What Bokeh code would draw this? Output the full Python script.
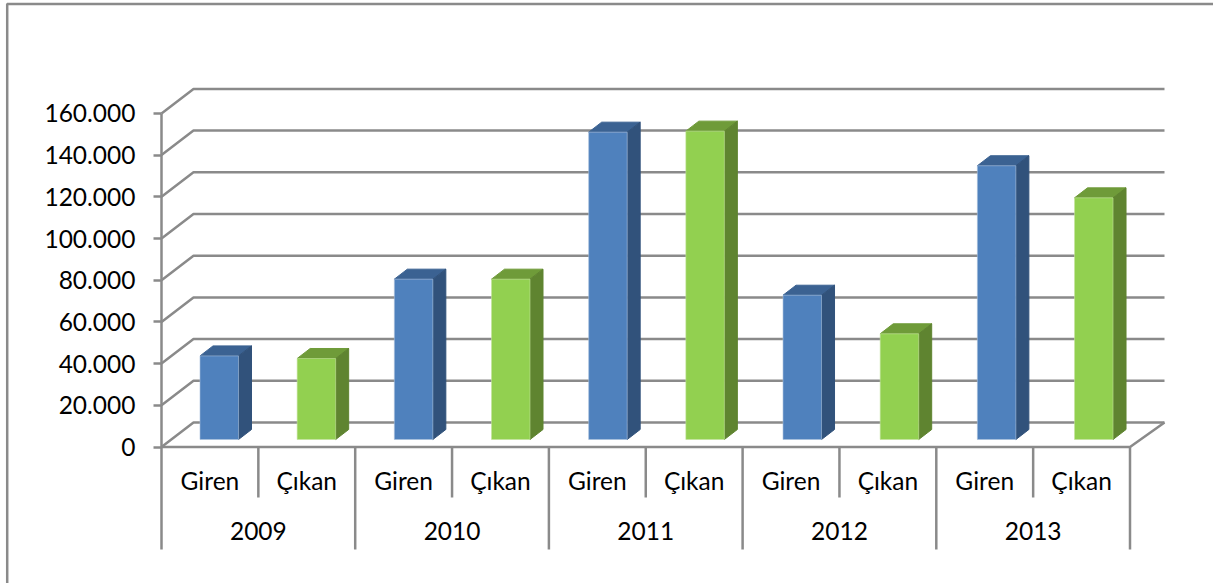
from bokeh.plotting import figure
from bokeh.embed import file_html
from bokeh.resources import INLINE
from bokeh.core.properties import value
from bokeh.models import Range1d, LinearAxis, FixedTicker, ColumnDataSource

# ---- data ----
years = ["2009", "2010", "2011", "2012", "2013"]
kinds = ["Giren", "Çıkan"]
giren = [40100, 76900, 147400, 69200, 131300]
cikan = [38850, 76900, 147900, 50700, 115900]
tick_values = [0, 20000, 40000, 60000, 80000, 100000, 120000, 140000, 160000]
tick_labels = ["0", "20.000", "40.000", "60.000", "80.000", "100.000", "120.000", "140.000", "160.000"]

# ---- geometry ----
W, H = 1213, 583
AX_X, AX_Y = 161.0, 446.5          # pixel of slot 0 / value 0 (front plane)
SLOT = 96.85                       # px per category slot
PX = 41.7 / 20000                  # px per value unit
DX, DY = 32.0, 24.5                # wall depth in px
BAR_OFF, BAR_W = 38.5, 38.5        # bar front face within its slot
BAR_DRIFT = 0.32                   # bars fan out slightly, px per slot
BAR_LIFT = 7.5                     # bar base above front floor line
BAR_DX, BAR_DY = 13.0, 10.0        # bar depth
FONT = "Lato"
FS = "24.5px"
GREY = "#8A8A8A"
LW = 2.5

dx = lambda px: px / SLOT          # px length -> x data
dy = lambda px: px / PX            # px length -> y data

p = figure(width=W, height=H, output_backend="svg", toolbar_location=None,
           x_axis_type=None, y_axis_type=None, min_border=0, outline_line_color=None,
           x_range=Range1d(-AX_X / SLOT, (W - AX_X) / SLOT),
           y_range=Range1d(-(H - AX_Y) / PX, AX_Y / PX))
p.grid.visible = False
p.styles = {"position": "absolute", "left": "0px", "top": "0px"}

n = len(years) * len(kinds)

# chart-area border (top and left only)
left_x = dx(6.7 - AX_X)
top_y = dy(AX_Y - 3.5)
p.line([left_x, left_x, dx(W - AX_X)], [dy(AX_Y - H), top_y, top_y], line_color=GREY, line_width=LW)

# walls: gridlines running from the axis, back, and along the back wall
for v in tick_values:
    p.line([0, dx(DX), n + dx(DX + 2.5)], [v, v + dy(DY), v + dy(DY)], line_color=GREY, line_width=LW)
# floor: front edge and right edge
p.line([0, n, n + dx(DX + 2.5)], [0, 0, dy(DY)], line_color=GREY, line_width=LW)

# category separators
inner = [i for i in range(1, n, 2)]
outer = [i for i in range(0, n + 1, 2)]
p.segment(inner, [0] * len(inner), inner, [dy(-50.5)] * len(inner), line_color=GREY, line_width=LW)
p.segment(outer, [0] * len(outer), outer, [dy(-102.5)] * len(outer), line_color=GREY, line_width=LW)

# bars
def add_bars(vals, first_slot, front, side, top, edge):
    fx, fy, sx, sy, tx, ty = [], [], [], [], [], []
    base = dy(BAR_LIFT)
    for i, v in enumerate(vals):
        slot = first_slot + 2 * i
        x0 = slot + dx(BAR_OFF + BAR_DRIFT * slot)
        x1 = x0 + dx(BAR_W)
        y0, y1 = base, base + v
        ox, oy = dx(BAR_DX), dy(BAR_DY)
        fx.append([x0, x1, x1, x0]); fy.append([y0, y0, y1, y1])
        sx.append([x1, x1 + ox, x1 + ox, x1]); sy.append([y0, y0 + oy, y1 + oy, y1])
        tx.append([x0, x1, x1 + ox, x0 + ox]); ty.append([y1, y1, y1 + oy, y1 + oy])
    p.patches(tx, ty, fill_color=top, line_color=top, line_width=1)
    p.patches(sx, sy, fill_color=side, line_color=side, line_width=1)
    p.patches(fx, fy, fill_color=front, line_color=edge, line_width=1, line_alpha=0.6)

add_bars(giren, 0, "#4F81BD", "#31527B", "#3B6292", "#A9C0DC")
add_bars(cikan, 1, "#92D050", "#5F8430", "#6F9B39", "#C3E39B")

# y axis
ax = LinearAxis(fixed_location=0, ticker=FixedTicker(ticks=tick_values),
                bounds=(tick_values[0], tick_values[-1]),
                major_label_overrides={v: s for v, s in zip(tick_values, tick_labels)},
                axis_line_color=GREY, axis_line_width=LW,
                major_tick_line_color=GREY, major_tick_line_width=LW,
                major_tick_out=8, major_tick_in=0, minor_tick_line_color=None,
                major_label_text_font=FONT, major_label_text_font_size=FS,
                major_label_text_color="#000000", major_label_standoff=18)
p.add_layout(ax, "left")

# category labels
kx = [i + 0.5 for i in range(n)]
kt = [kinds[i % 2] for i in range(n)]
yx = [2 * i + 1 for i in range(len(years))]
src_k = ColumnDataSource(dict(x=kx, y=[dy(-33)] * n, t=kt))
src_y = ColumnDataSource(dict(x=yx, y=[dy(-84)] * len(years), t=years))
for s in (src_k, src_y):
    p.text("x", "y", "t", source=s, text_font=value(FONT), text_font_size=value(FS),
           text_color="#000000", text_align="center", text_baseline="middle")

open("out.html", "w").write(file_html(p, INLINE))
